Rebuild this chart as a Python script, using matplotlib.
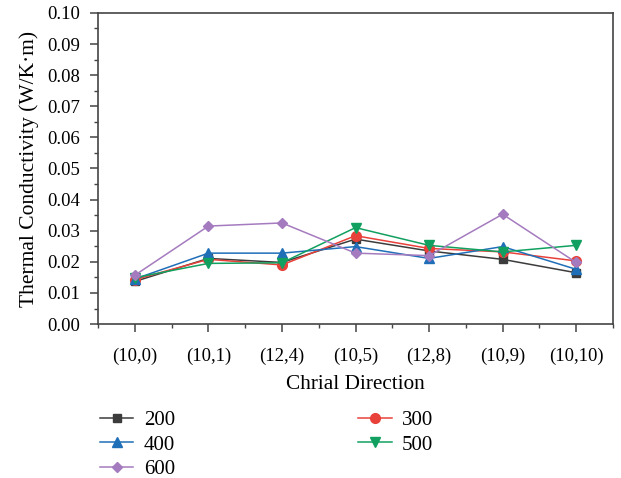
import matplotlib
matplotlib.use("Agg")
import matplotlib.pyplot as plt
from matplotlib.ticker import MultipleLocator, FixedLocator, FormatStrFormatter

plt.rcParams['font.family'] = ['Liberation Serif', 'DejaVu Serif']

# data
directions = ["(10,0)", "(10,1)", "(12,4)", "(10,5)", "(12,8)", "(10,9)", "(10,10)"]
k_200 = [0.0137, 0.0211, 0.0198, 0.0273, 0.0235, 0.0208, 0.0165]
k_300 = [0.0143, 0.0208, 0.0190, 0.0284, 0.0243, 0.0232, 0.0203]
k_400 = [0.0145, 0.0228, 0.0228, 0.0249, 0.0211, 0.0249, 0.0176]
k_500 = [0.0149, 0.0195, 0.0197, 0.0310, 0.0253, 0.0232, 0.0253]
k_600 = [0.0157, 0.0315, 0.0325, 0.0228, 0.0220, 0.0353, 0.0198]
labels = ["200", "300", "400", "500", "600"]

series = [k_200, k_300, k_400, k_500, k_600]
colors = ['#3c3c3c', '#e8413a', '#1f6fb8', '#12a060', '#a57bbf']
markers = ['s', 'o', '^', 'v', 'D']
msizes = [6, 7, 7, 7, 5.5]

fig = plt.figure(figsize=(6.21, 4.78), dpi=100)
ax = fig.add_axes([0.158, 0.322, 0.829, 0.651])

x = range(len(directions))
lines = []
for vals, lab, c, m, ms in zip(series, labels, colors, markers, msizes):
    ln, = ax.plot(x, vals, color=c, marker=m, markersize=ms, linewidth=1.1, label=lab)
    lines.append(ln)

ax.set_xlim(-0.5, 6.5)
ax.set_ylim(0, 0.10)
ax.set_xticks(list(x))
ax.set_xticklabels(directions)
ax.xaxis.set_minor_locator(FixedLocator([i + 0.5 for i in range(-1, 7)]))
ax.yaxis.set_major_locator(MultipleLocator(0.01))
ax.yaxis.set_minor_locator(MultipleLocator(0.005))
ax.yaxis.set_major_formatter(FormatStrFormatter('%.2f'))

for sp in ax.spines.values():
    sp.set_color('#444444')
    sp.set_linewidth(1.2)
ax.tick_params(which='both', direction='out', color='#444444', labelsize=13.5, top=False, right=False)
ax.tick_params(which='major', length=6, width=1.1)
ax.tick_params(which='minor', length=3, width=1.0)
ax.tick_params(axis='y', which='major', pad=7)
ax.tick_params(axis='x', pad=11)

ax.set_xlabel("Chrial Direction", fontsize=15.3, labelpad=7)
ax.set_ylabel("Thermal Conductivity (W/K·m)", fontsize=15.5, labelpad=6)

order = [lines[0], lines[2], lines[4], lines[1], lines[3]]
fig.legend(order, [l.get_label() for l in order], ncol=2, loc='upper left',
           bbox_to_anchor=(0.131, 0.181), frameon=False, fontsize=15,
           handlelength=1.6, handletextpad=0.5, columnspacing=8.8, labelspacing=0.25,
           borderpad=0.4)

fig.savefig("out.png", dpi=100)
